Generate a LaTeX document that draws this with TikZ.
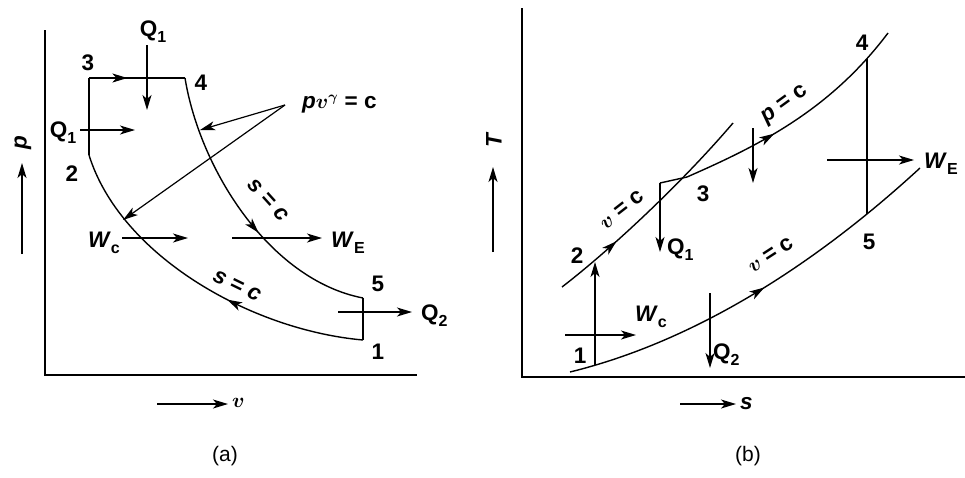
\documentclass[tikz,border=0pt]{standalone}
\usepackage{fontspec}
\setmainfont{Liberation Sans}
\usetikzlibrary{arrows.meta,decorations.markings}
\newcommand\sbs[1]{\raisebox{-6pt}{\fontsize{16}{16}\selectfont #1}}
\begin{document}
\begin{tikzpicture}[x=1pt,y=-1pt,
  curve/.style={line width=1.4pt},
  axis/.style={line width=1.9pt},
  thin/.style={line width=1.2pt},
  tip/.style={line width=1.2pt,-{Stealth[length=15pt,width=9pt,inset=4pt]}},
  midarrow/.style={postaction={decorate},decoration={markings,mark=at position #1 with {\arrow{Stealth[length=15pt,width=9pt,inset=4pt]}}}},
  lbl/.style={font=\fontsize{22.5}{22.5}\selectfont\bfseries\boldmath, inner sep=0pt},
  captxt/.style={font=\fontsize{21}{21}\selectfont, inner sep=0pt}]
\useasboundingbox (0,0) rectangle (965,477);

% ---------------- panel (a) ----------------
\coordinate (a3) at (89,78);
\coordinate (a4) at (185,78);
\coordinate (a2) at (89,155);
\coordinate (a1) at (363,340);
\coordinate (a5) at (363,298);
\coordinate (pvs) at (285,105);
\coordinate (pvt1) at (200,130);
\coordinate (pvt2) at (123,220);

\draw[axis] (45,30) -- (45,375) -- (417,375);

\draw[curve,midarrow=0.4] (a3) -- (a4);
\draw[curve,midarrow=0.58] (a4) .. controls (200,170) and (270,280) .. (a5);
\draw[curve] (a5) -- (a1);
\draw[curve,midarrow=0.41] (a1) .. controls (250,330) and (120,255) .. (a2);
\draw[curve] (a2) -- (a3);

\draw[tip] (pvs) -- (pvt1);
\draw[tip] (pvs) -- (pvt2);

\coordinate (q1at) at (147,45);   \coordinate (q1ab) at (147,110);
\coordinate (q1ls) at (80,130);   \coordinate (q1le) at (135,130);
\coordinate (wcas) at (122,238);  \coordinate (wcae) at (188,238);
\coordinate (weas) at (232,238);  \coordinate (weae) at (322,238);
\coordinate (q2as) at (338,312);  \coordinate (q2ae) at (412,312);
\draw[tip] (q1at) -- (q1ab);
\draw[tip] (q1ls) -- (q1le);
\draw[tip] (wcas) -- (wcae);
\draw[tip] (weas) -- (weae);
\draw[tip] (q2as) -- (q2ae);

\node[lbl] (l3a) at (88,63) {3};
\node[lbl] (l4a) at (201,83) {4};
\node[lbl] (l2a) at (72,174) {2};
\node[lbl] (l5a) at (378,284) {5};
\node[lbl] (l1a) at (378,352) {1};
\node[lbl] (q1ta) at (153,32) {Q\sbs{1}};
\node[lbl] (q1la) at (63,133) {Q\sbs{1}};
\node[lbl,anchor=west] (pvl) at (302,104) {\textit{p}$v^{\gamma}$ = c};
\node[lbl] (wca) at (104,243) {\textit{W}\sbs{c}};
\node[lbl,anchor=west] (wea) at (331,243) {\textit{W}\sbs{E}};
\node[lbl,anchor=west] (q2a) at (421,316) {Q\sbs{2}};
\node[lbl,rotate=-48] (sc1) at (268,200) {\textit{s} = \textit{c}};
\node[lbl,rotate=-26] (sc2) at (237,286) {\textit{s} = \textit{c}};

\coordinate (pas) at (22,254); \coordinate (pae) at (22,163);
\draw[tip] (pas) -- (pae);
\node[lbl,rotate=90] (pax) at (23,143) {\textit{p}};
\coordinate (vas) at (157,404); \coordinate (vae) at (228,404);
\draw[tip] (vas) -- (vae);
\node[lbl,anchor=west] (vax) at (232,403) {$v$};
\node[captxt] (capa) at (225,456) {(a)};

% ---------------- panel (b) ----------------
\coordinate (b1) at (595,365);
\coordinate (b2) at (595,262);
\coordinate (b3) at (660,183);
\coordinate (b3j) at (687,177);
\coordinate (b4) at (867,59);
\coordinate (b5) at (867,214);

\draw[axis] (522,8) -- (522,377) -- (965,377);

\draw[curve,midarrow=0.3] (562,287) .. controls (610,250) and (680,185) .. (733,123);
\draw[curve,midarrow=0.45] (b3) -- (b3j) .. controls (760,145) and (830,110) .. (888,33);
\draw[curve,midarrow=0.52] (570,372) .. controls (700,340) and (820,260) .. (920,168);
\draw[thin] (b4) -- (b5);
\draw[tip] (b1) -- (b2);

\coordinate (q1bb) at (660,252);
\coordinate (dps) at (753,128);  \coordinate (dpe) at (753,183);
\coordinate (webs) at (827,160); \coordinate (webe) at (914,160);
\coordinate (wcbs) at (565,335); \coordinate (wcbe) at (636,335);
\coordinate (q2bs) at (710,293); \coordinate (q2be) at (710,368);
\draw[tip] (b3) -- (q1bb);
\draw[tip] (dps) -- (dpe);
\draw[tip] (webs) -- (webe);
\draw[tip] (wcbs) -- (wcbe);
\draw[tip] (q2bs) -- (q2be);

\node[lbl] (l4b) at (862,43) {4};
\node[lbl] (l3b) at (703,194) {3};
\node[lbl] (l5b) at (869,242) {5};
\node[lbl] (l2b) at (577,256) {2};
\node[lbl] (l1b) at (580,356) {1};
\node[lbl,anchor=west] (q1b) at (667,250) {Q\sbs{1}};
\node[lbl,anchor=west] (q2b) at (713,355) {Q\sbs{2}};
\node[lbl,anchor=west] (web) at (924,164) {\textit{W}\sbs{E}};
\node[lbl] (wcb) at (651,317) {\textit{W}\sbs{c}};
\node[lbl,rotate=38] (vc1) at (622,210) {$v$ = c};
\node[lbl,rotate=36] (pcb) at (785,105) {\textit{p} = c};
\node[lbl,rotate=33] (vc2) at (771,255) {$v$ = c};

\coordinate (tas) at (493,252); \coordinate (tae) at (493,167);
\draw[tip] (tas) -- (tae);
\node[lbl,rotate=90] (tax) at (494,140) {\textit{T}};
\coordinate (sas) at (680,404); \coordinate (sae) at (736,404);
\draw[tip] (sas) -- (sae);
\node[lbl,anchor=west] (sax) at (740,404) {\textit{s}};
\node[captxt] (capb) at (748,456) {(b)};
\end{tikzpicture}
\end{document}
